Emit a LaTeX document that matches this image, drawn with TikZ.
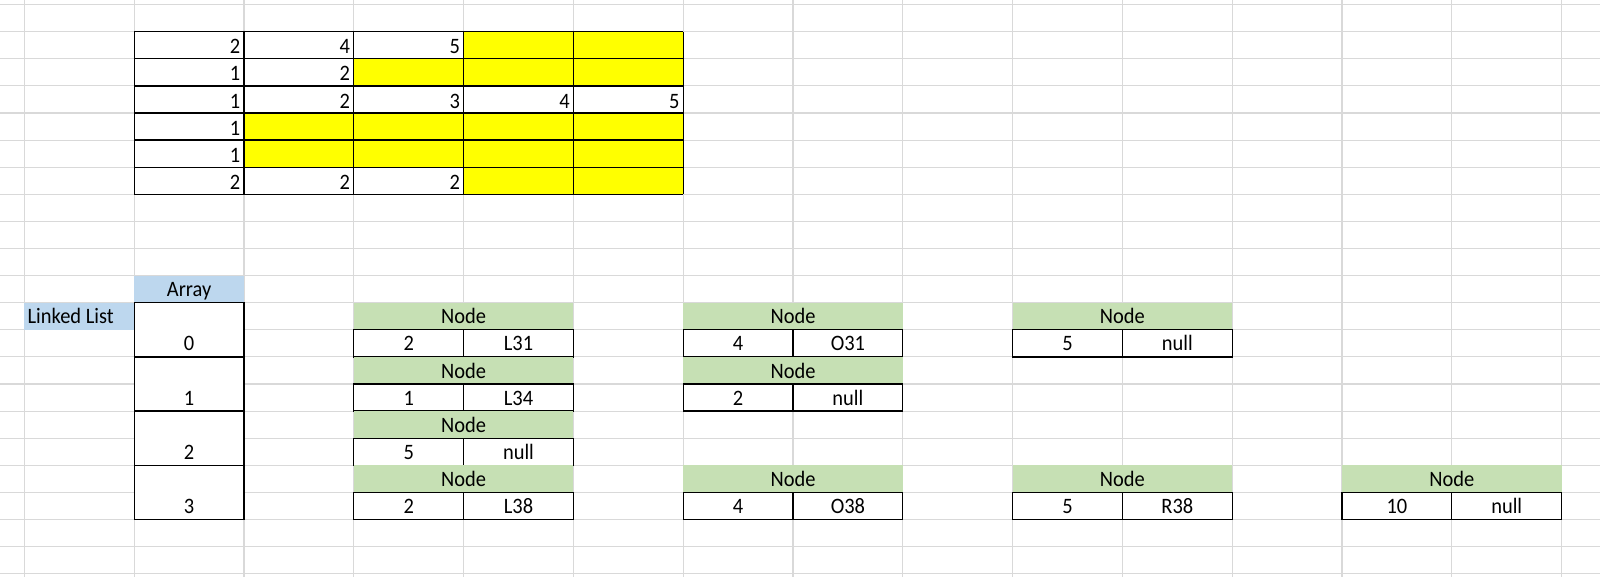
\documentclass[tikz,border=0pt]{standalone}
\usepackage{fontspec}
\setmainfont{Carlito}[FakeStretch=0.93]
\definecolor{gridgray}{HTML}{D9D9D9}
\definecolor{cellyellow}{HTML}{FFFF00}
\definecolor{nodegreen}{HTML}{C6E0B4}
\definecolor{headblue}{HTML}{BDD7EE}
\tikzset{
  gridline/.style={draw=gridgray, line width=1.1pt},
  cellbox/.style={draw=black, line width=1.3pt},
  txt/.style={inner sep=0pt, font=\fontsize{22}{25}\selectfont}
}
\newcommand{\llnode}[5]{%
  \fill[nodegreen] (#2,#3) rectangle ({#2+2},{#3+1});
  \fill[white] (#2,{#3+1}) rectangle ({#2+2},{#3+2});
  \draw[cellbox] (#2,{#3+1}) rectangle ({#2+1},{#3+2});
  \draw[cellbox] ({#2+1},{#3+1}) rectangle ({#2+2},{#3+2});
  \node[txt, anchor=base, yshift=6pt] (#1-h) at ({#2+1},{#3+1}) {Node};
  \node[txt, anchor=base, yshift=6pt] (#1-v) at ({#2+0.5},{#3+2}) {#4};
  \node[txt, anchor=base, yshift=6pt] (#1-p) at ({#2+1.5},{#3+2}) {#5};
}
\begin{document}
\begin{tikzpicture}
\path[use as bounding box] (0,0) rectangle (1600pt,-576pt);
\fill[white] (0,0) rectangle (1600pt,-576pt);
\begin{scope}[shift={(24.4pt,-4.6pt)}, x=109.8pt, y=-27.1pt]
% grid lines
\foreach \j in {0,...,14} \draw[gridline] (\j,-0.3) -- (\j,21.3);
\foreach \k in {0,...,21} \draw[gridline] (-0.3,\k) -- (14.4,\k);
% top table
\fill[white] (1,1) rectangle (6,7);
\foreach \c/\r in {4/1,5/1,3/2,4/2,5/2,2/4,3/4,4/4,5/4,2/5,3/5,4/5,5/5,4/6,5/6}
  \fill[cellyellow] (\c,\r) rectangle ++(1,1);
\foreach \j in {1,...,6} \draw[cellbox] (\j,1) -- (\j,7);
\foreach \k in {1,...,7} \draw[cellbox] (1,\k) -- (6,\k);
\foreach \c/\r/\v in {1/1/2,2/1/4,3/1/5,1/2/1,2/2/2,1/3/1,2/3/2,3/3/3,4/3/4,5/3/5,1/4/1,1/5/1,1/6/2,2/6/2,3/6/2}
  \node[txt, anchor=base east, xshift=-3.5pt, yshift=5pt] (m\r\c) at ({\c+1},{\r+1}) {\v};
% array
\fill[headblue] (1,10) rectangle (2,11);
\node[txt, anchor=base, yshift=6pt] (arrayhead) at (1.5,11) {Array};
\fill[headblue] (0,11) rectangle (1,12);
\node[txt, anchor=base west, xshift=3pt, yshift=6pt] (lltitle) at (0,12) {Linked List};
\fill[white] (1,11) rectangle (2,19);
\foreach \i in {0,...,3} {
  \draw[cellbox] (1,{11+2*\i}) rectangle (2,{13+2*\i});
  \node[txt, anchor=base, yshift=6pt] (a\i) at (1.5,{13+2*\i}) {\i};
}
% linked list nodes
\llnode{n00}{3}{11}{2}{L31}
\llnode{n01}{6}{11}{4}{O31}
\llnode{n02}{9}{11}{5}{null}
\llnode{n10}{3}{13}{1}{L34}
\llnode{n11}{6}{13}{2}{null}
\llnode{n20}{3}{15}{5}{null}
\llnode{n30}{3}{17}{2}{L38}
\llnode{n31}{6}{17}{4}{O38}
\llnode{n32}{9}{17}{5}{R38}
\llnode{n33}{12}{17}{10}{null}
\end{scope}
\end{tikzpicture}
\end{document}
